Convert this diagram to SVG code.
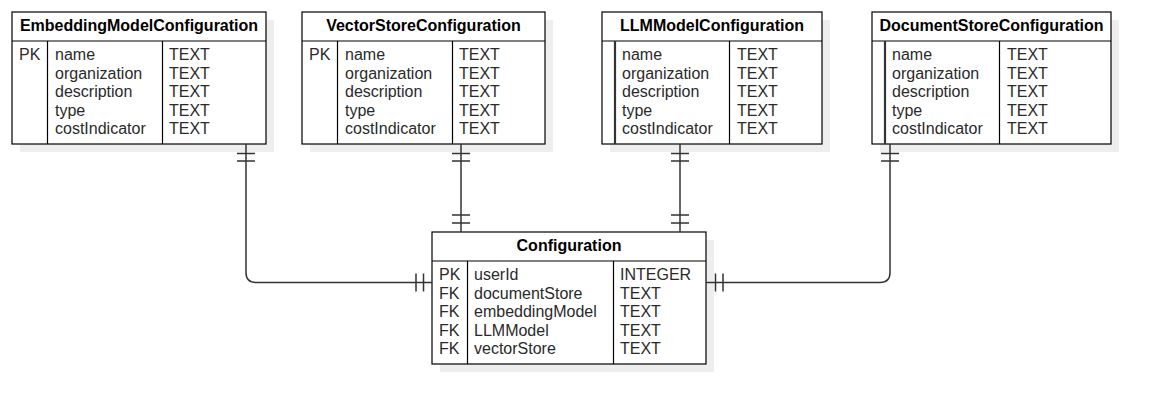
<svg xmlns="http://www.w3.org/2000/svg" width="1160" height="413" viewBox="0 0 1160 413">
<style>
.shadow{fill:#eeeeee;stroke:none}
.box{fill:#ffffff;stroke:#000000;stroke-width:1.2}
.div{stroke:#000000;stroke-width:1.2}
.thick{stroke:#333333;stroke-width:2.2}
.hdr{font-family:"Liberation Sans",Arial,sans-serif;font-size:16px;font-weight:bold;fill:#000000;text-anchor:middle}
.row{font-family:"Liberation Sans",Arial,sans-serif;font-size:16px;fill:#2a2a2a}
.conn{fill:none;stroke:#333333;stroke-width:1.5}
</style>
<rect width="1160" height="413" fill="#ffffff"/>

<g id="EmbeddingModelConfiguration">
<rect class="shadow" x="20" y="20" width="254" height="132"/>
<rect class="box" x="12" y="12" width="254" height="132"/>
<line class="div" x1="12" y1="41" x2="266" y2="41"/>
<line class="div" x1="47.5" y1="41" x2="47.5" y2="144"/>
<line class="div" x1="162.5" y1="41" x2="162.5" y2="144"/>
<text class="hdr" x="139" y="31">EmbeddingModelConfiguration</text>
<text class="row" x="19" y="60">PK</text>
<text class="row" x="55" y="60">name</text>
<text class="row" x="55" y="78.5">organization</text>
<text class="row" x="55" y="97">description</text>
<text class="row" x="55" y="115.5">type</text>
<text class="row" x="55" y="134">costIndicator</text>
<text class="row" x="169" y="60">TEXT</text>
<text class="row" x="169" y="78.5">TEXT</text>
<text class="row" x="169" y="97">TEXT</text>
<text class="row" x="169" y="115.5">TEXT</text>
<text class="row" x="169" y="134">TEXT</text>
</g>

<g id="VectorStoreConfiguration">
<rect class="shadow" x="310" y="20" width="243" height="132"/>
<rect class="box" x="302" y="12" width="243" height="132"/>
<line class="div" x1="302" y1="41" x2="545" y2="41"/>
<line class="div" x1="337.5" y1="41" x2="337.5" y2="144"/>
<line class="div" x1="452.5" y1="41" x2="452.5" y2="144"/>
<text class="hdr" x="423.5" y="31">VectorStoreConfiguration</text>
<text class="row" x="309" y="60">PK</text>
<text class="row" x="345" y="60">name</text>
<text class="row" x="345" y="78.5">organization</text>
<text class="row" x="345" y="97">description</text>
<text class="row" x="345" y="115.5">type</text>
<text class="row" x="345" y="134">costIndicator</text>
<text class="row" x="459" y="60">TEXT</text>
<text class="row" x="459" y="78.5">TEXT</text>
<text class="row" x="459" y="97">TEXT</text>
<text class="row" x="459" y="115.5">TEXT</text>
<text class="row" x="459" y="134">TEXT</text>
</g>

<g id="LLMModelConfiguration">
<rect class="shadow" x="610" y="20" width="220" height="132"/>
<rect class="box" x="602" y="12" width="220" height="132"/>
<line class="div" x1="602" y1="41" x2="822" y2="41"/>
<line class="thick" x1="615" y1="41" x2="615" y2="144"/>
<line class="div" x1="729.5" y1="41" x2="729.5" y2="144"/>
<text class="hdr" x="712" y="31">LLMModelConfiguration</text>
<text class="row" x="622" y="60">name</text>
<text class="row" x="622" y="78.5">organization</text>
<text class="row" x="622" y="97">description</text>
<text class="row" x="622" y="115.5">type</text>
<text class="row" x="622" y="134">costIndicator</text>
<text class="row" x="737" y="60">TEXT</text>
<text class="row" x="737" y="78.5">TEXT</text>
<text class="row" x="737" y="97">TEXT</text>
<text class="row" x="737" y="115.5">TEXT</text>
<text class="row" x="737" y="134">TEXT</text>
</g>

<g id="DocumentStoreConfiguration">
<rect class="shadow" x="880" y="20" width="239" height="132"/>
<rect class="box" x="872" y="12" width="239" height="132"/>
<line class="div" x1="872" y1="41" x2="1111" y2="41"/>
<line class="thick" x1="885" y1="41" x2="885" y2="144"/>
<line class="div" x1="999.5" y1="41" x2="999.5" y2="144"/>
<text class="hdr" x="991.5" y="31">DocumentStoreConfiguration</text>
<text class="row" x="892" y="60">name</text>
<text class="row" x="892" y="78.5">organization</text>
<text class="row" x="892" y="97">description</text>
<text class="row" x="892" y="115.5">type</text>
<text class="row" x="892" y="134">costIndicator</text>
<text class="row" x="1007" y="60">TEXT</text>
<text class="row" x="1007" y="78.5">TEXT</text>
<text class="row" x="1007" y="97">TEXT</text>
<text class="row" x="1007" y="115.5">TEXT</text>
<text class="row" x="1007" y="134">TEXT</text>
</g>

<g id="Configuration">
<rect class="shadow" x="440" y="240" width="274" height="132"/>
<rect class="box" x="432" y="232" width="274" height="132"/>
<line class="div" x1="432" y1="261" x2="706" y2="261"/>
<line class="div" x1="467.5" y1="261" x2="467.5" y2="364"/>
<line class="div" x1="613.5" y1="261" x2="613.5" y2="364"/>
<text class="hdr" x="569" y="251">Configuration</text>
<text class="row" x="439" y="280">PK</text>
<text class="row" x="439" y="298.5">FK</text>
<text class="row" x="439" y="317">FK</text>
<text class="row" x="439" y="335.5">FK</text>
<text class="row" x="439" y="354">FK</text>
<text class="row" x="474" y="280">userId</text>
<text class="row" x="474" y="298.5">documentStore</text>
<text class="row" x="474" y="317">embeddingModel</text>
<text class="row" x="474" y="335.5">LLMModel</text>
<text class="row" x="474" y="354">vectorStore</text>
<text class="row" x="620" y="280">INTEGER</text>
<text class="row" x="620" y="298.5">TEXT</text>
<text class="row" x="620" y="317">TEXT</text>
<text class="row" x="620" y="335.5">TEXT</text>
<text class="row" x="620" y="354">TEXT</text>
</g>

<g id="connectors">
<path class="conn" d="M246,144 V272.5 Q246,282.5 256,282.5 H432"/>
<path class="conn" d="M237,153.5 H255 M237,161 H255 M416,273.5 V291.5 M423.5,273.5 V291.5"/>
<path class="conn" d="M461,144 V232"/>
<path class="conn" d="M452,153.5 H470 M452,161 H470 M452,215 H470 M452,223 H470"/>
<path class="conn" d="M680,144 V232"/>
<path class="conn" d="M671,153.5 H689 M671,161 H689 M671,215 H689 M671,223 H689"/>
<path class="conn" d="M890,144 V272.5 Q890,282.5 880,282.5 H706"/>
<path class="conn" d="M881,153.5 H899 M881,161 H899 M715.5,273.5 V291.5 M723,273.5 V291.5"/>
</g>
</svg>
